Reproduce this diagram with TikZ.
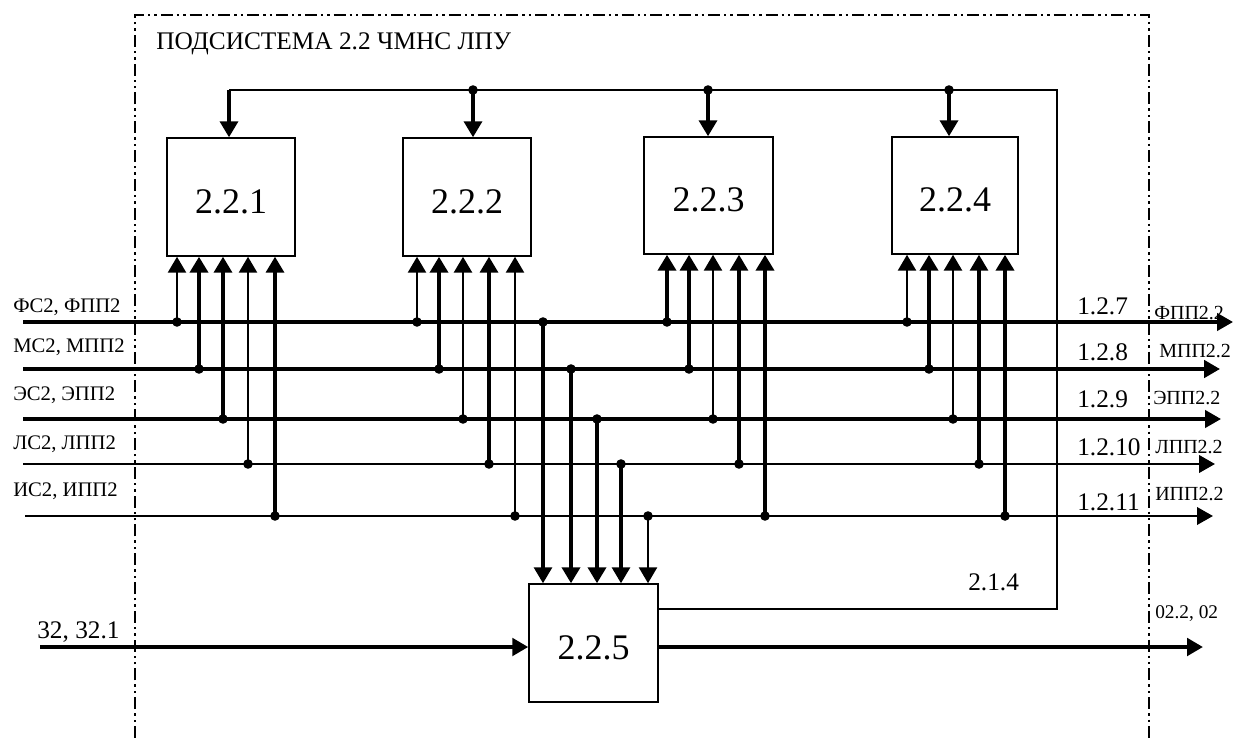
\documentclass[tikz,border=0pt]{standalone}
\usepackage{fontspec}
\setmainfont{Liberation Serif}
\usetikzlibrary{arrows.meta}
\begin{document}
\begin{tikzpicture}[x=0.75pt,y=-0.75pt,
  blk/.style={draw, line width=1.1pt, inner sep=0pt, font=\fontsize{27pt}{27pt}\selectfont},
  tipa/.style={-{Triangle[length=12pt,width=13.5pt]}},
  tipb/.style={-{Triangle[length=12pt,width=13pt]}},
  framel/.style={line width=2.2pt, dash pattern=on 9pt off 3pt on 1.8pt off 3pt on 1.8pt off 3pt},
  thinl/.style={line width=1.4pt},
  lblL/.style={anchor=base west, inner sep=0pt, font=\fontsize{15.5pt}{15.5pt}\selectfont},
  lblN/.style={anchor=base west, inner sep=0pt, font=\fontsize{19pt}{19pt}\selectfont},
  lblS/.style={anchor=base west, inner sep=0pt, font=\fontsize{15pt}{15pt}\selectfont}
]
\useasboundingbox (0,0) rectangle (1234,738);

% frame
\draw[framel] (135,738) -- (135,15) -- (1149,15) -- (1149,738);
\node[lblN] (title) at (156,50) {ПОДСИСТЕМА 2.2 ЧМНС ЛПУ};

% boxes
\node[blk, minimum width=96pt, minimum height=88.5pt] (b1) at (231,197) {\raisebox{-3.75pt}[\height][\depth]{2.2.1}};
\node[blk, minimum width=96pt, minimum height=88.5pt] (b2) at (467,197) {\raisebox{-3.75pt}[\height][\depth]{2.2.2}};
\node[blk, minimum width=96.75pt, minimum height=87.75pt] (b3) at (708.5,195.5) {\raisebox{-3.5pt}[\height][\depth]{2.2.3}};
\node[blk, minimum width=94.5pt, minimum height=87.75pt] (b4) at (955,195.5) {\raisebox{-3.5pt}[\height][\depth]{2.2.4}};
\node[blk, minimum width=96.75pt, minimum height=88.5pt] (b5) at (593.5,643) {\raisebox{-3.5pt}[\height][\depth]{2.2.5}};

% signal lines
\coordinate (fa) at (23,322);  \coordinate (fb) at (1233,322);
\coordinate (ma) at (23,369);  \coordinate (mb) at (1220,369);
\coordinate (ea) at (23,419);  \coordinate (eb) at (1221,419);
\coordinate (la) at (23,464);  \coordinate (lb) at (1215,464);
\coordinate (ia) at (25,516);  \coordinate (ib) at (1213,516);
\draw[tipb, line width=2.5pt] (fa) -- (fb);
\draw[tipb, line width=2.8pt] (ma) -- (mb);
\draw[tipb, line width=2.5pt] (ea) -- (eb);
\draw[tipb, line width=2.2pt] (la) -- (lb);
\draw[tipb, line width=2pt] (ia) -- (ib);

% left labels
\node[lblL] (lf) at (13,312) {ФС2, ФПП2};
\node[lblL] (lm) at (13,352) {МС2, МПП2};
\node[lblL] (le) at (13,400) {ЭС2, ЭПП2};
\node[lblL] (ll) at (13,449) {ЛС2, ЛПП2};
\node[lblL] (li) at (13,496) {ИС2, ИПП2};

% right numbers
\node[lblN] (n7) at (1077,314.5) {1.2.7};
\node[lblN] (n8) at (1077,360.5) {1.2.8};
\node[lblN] (n9) at (1077,407.5) {1.2.9};
\node[lblN] (n10) at (1077,455.5) {1.2.10};
\node[lblN] (n11) at (1077,510.5) {1.2.11};

% right names
\node[lblS] (rf) at (1154,319) {ФПП2.2};
\node[lblS] (rm) at (1159,357) {МПП2.2};
\node[lblS] (re) at (1153,404) {ЭПП2.2};
\node[lblS] (rl) at (1155,453) {ЛПП2.2};
\node[lblS] (ri) at (1155,500) {ИПП2.2};

% taps up into boxes 2.2.1 - 2.2.4
\foreach \x/\y/\w/\b in {
  177/322/2/b1, 199/369/3/b1, 223/419/2.6/b1, 248/464/2/b1, 275/516/2.6/b1,
  417/322/2/b2, 439/369/2.8/b2, 463/419/2.2/b2, 489/464/2.6/b2, 515/516/2/b2,
  667/322/3/b3, 689/369/2.6/b3, 713/419/2/b3, 739/464/2.3/b3, 765/516/3/b3,
  907/322/2/b4, 929/369/3/b4, 953/419/2.2/b4, 979/464/2.3/b4, 1005/516/3/b4}{
  \coordinate (tp) at (\x,\y);
  \draw[tipa, line width=\w pt] (tp) -- (tp |- \b.south);
  \fill (tp) circle (3.6pt);
}

% taps down into box 2.2.5
\foreach \x/\y/\w in {543/322/2.3/, 571/369/2.8/, 597/419/2.8/, 621/464/2.3/, 648/516/2/}{
  \coordinate (tp) at (\x,\y);
  \draw[tipa, line width=\w pt] (tp) -- (tp |- b5.north);
  \fill (tp) circle (3.6pt);
}

% feedback bus 2.1.4
\coordinate (c214) at (1057,609);
\coordinate (busr) at (1057,90);
\coordinate (busl) at (229,90);
\draw[thinl] (c214 -| b5.east) -- (c214) -- (busr) -- (busl);
\draw[tipa, line width=2.7pt] (busl) -- (busl |- b1.north);
\foreach \x/\b in {473/b2, 708/b3, 949/b4}{
  \coordinate (tp) at (\x,90);
  \draw[tipa, line width=2.7pt] (tp) -- (tp |- \b.north);
  \fill (tp) circle (3.6pt);
}
\node[lblN] (l214) at (968,590) {2.1.4};

% input and output of 2.2.5
\coordinate (in5) at (40,647);
\coordinate (out5) at (1203,647);
\draw[tipb, line width=3.2pt] (in5) -- (in5 -| b5.west);
\draw[tipb, line width=3.2pt] (out5 -| b5.east) -- (out5);
\node[lblN] (l32) at (37,638) {32, 32.1};
\node[anchor=base west, inner sep=0pt, font=\fontsize{14.5pt}{14.5pt}\selectfont] (l02) at (1155,618) {02.2, 02};
\end{tikzpicture}
\end{document}
